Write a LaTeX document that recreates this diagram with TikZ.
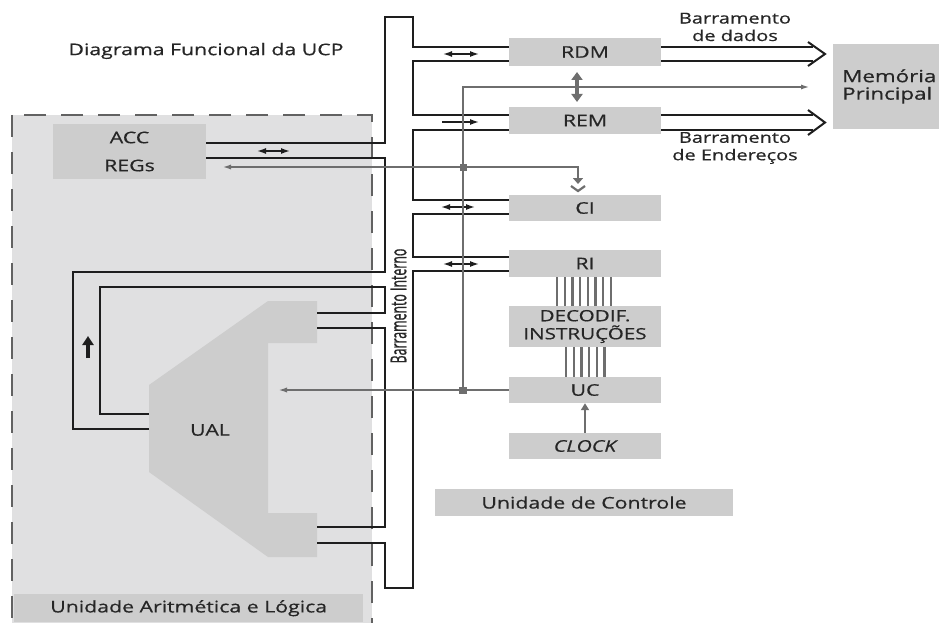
\documentclass[tikz,border=0pt]{standalone}
\usepackage{fontspec}
\setmainfont[FakeStretch=1.33,FakeBold=0.6]{Open Sans}
\newfontfamily\condfont[FakeStretch=0.56,FakeBold=0.8]{Open Sans}
\usetikzlibrary{arrows.meta,calc}
\definecolor{boxgray}{HTML}{CDCDCD}
\definecolor{regiongray}{HTML}{E0E0E1}
\definecolor{wiregray}{HTML}{6E6E6E}
\definecolor{dashgray}{HTML}{626262}
\definecolor{ink}{HTML}{262626}
\definecolor{busblack}{HTML}{1E1E1E}
\tikzset{
  box/.style={fill=boxgray, inner sep=0pt, text=ink, font=\fontsize{16}{19}\selectfont},
  txt/.style={inner sep=0pt, text=ink, font=\fontsize{16}{19}\selectfont},
  bus/.style={draw=busblack, line width=2pt},
  wire/.style={draw=wiregray, line width=2.5pt},
  dec/.style={draw=wiregray, line width=2.3pt},
  smallarr/.style={draw=busblack, line width=1.5pt},
  bihead/.style={{Latex[length=9pt,width=6pt]}-{Latex[length=9pt,width=6pt]}},
  onehead/.style={-{Latex[length=9pt,width=6pt]}},
}
\begin{document}
\begin{tikzpicture}[x=1pt,y=-1pt]
\useasboundingbox (0,0) rectangle (939,623);
\clip (0,0) rectangle (939,623);
\fill[white] (0,0) rectangle (939,623);
% ALU region
\draw[fill=regiongray, draw=dashgray, line width=2.8pt, dash pattern=on 22pt off 15pt] (12,115) rectangle (372,660);
\node[box, minimum width=349pt, minimum height=28pt, anchor=north west] (ualbox) at (14,594) {Unidade Aritmética e Lógica};
% title
\node[txt] (title) at (206,51) {Diagrama Funcional da UCP};
% registers
\node[box, minimum width=153pt, minimum height=55pt, align=center, font=\fontsize{16}{28}\selectfont] (acc) at (129.5,151.5) {ACC\\REGs};
% ALU shape
\fill[boxgray] (268,301) -- (317,301) -- (317,343) -- (268,343) -- (268,513) -- (317,513) -- (317,557) -- (268,557) -- (149,472) -- (149,385) -- cycle;
\node[txt] (ual) at (210,430) {UAL};
% control unit boxes
\node[box, minimum width=152pt, minimum height=28pt] (rdm) at (585,52) {RDM};
\node[box, minimum width=152pt, minimum height=27pt] (rem) at (585,120.5) {REM};
\node[box, minimum width=152pt, minimum height=26pt] (ci) at (585,208) {CI};
\node[box, minimum width=152pt, minimum height=27pt] (ri) at (585,263.5) {RI};
\node[box, minimum width=152pt, minimum height=41pt, align=center, font=\fontsize{15.5}{18}\selectfont] (decod) at (585,326.5) {DECODIF.\\INSTRUÇÕES};
\node[box, minimum width=152pt, minimum height=26pt] (uc) at (585,390) {UC};
\node[box, minimum width=152pt, minimum height=26pt, font=\fontsize{16}{19}\selectfont\itshape] (clk) at (585,446) {CLOCK};
\node[box, minimum width=298pt, minimum height=27pt] (udc) at (584,502.5) {Unidade de Controle};
% memory
\node[box, minimum width=130pt, minimum height=85pt, anchor=north west] (mem) at (833,44) {};
\node[txt, anchor=west, align=left, font=\fontsize{16.8}{17.5}\selectfont] (memtxt) at (842,86.5) {Memória\\Principal};
% bus labels
\node[txt, align=center, font=\fontsize{15}{17.5}\selectfont] (bd) at (735,27) {Barramento\\de dados};
\node[txt, align=center, font=\fontsize{15}{17.5}\selectfont] (be) at (735,148) {Barramento\\de Endereços};
\node[txt, rotate=90, font=\condfont\fontsize{22}{22}\selectfont] (bi) at (398.5,306) {Barramento Interno};
% internal bus outline
\draw[bus] (acc.east |- 0,143) -- (385,143) -- (385,17) -- (413,17) -- (413,47) -- (rdm.west |- 0,47);
\draw[bus] (rdm.west |- 0,61) -- (413,61) -- (413,115) -- (rem.west |- 0,115);
\draw[bus] (rem.west |- 0,130) -- (413,130) -- (413,200) -- (ci.west |- 0,200);
\draw[bus] (ci.west |- 0,214) -- (413,214) -- (413,257) -- (ri.west |- 0,257);
\draw[bus] (ri.west |- 0,271) -- (413,271) -- (413,588) -- (385,588) -- (385,543) -- (317,543);
\draw[bus] (317,527) -- (385,527) -- (385,328) -- (317,328);
\draw[bus] (317,313) -- (385,313) -- (385,287) -- (100,287) -- (100,414) -- (149,414);
\draw[bus] (149,429) -- (73,429) -- (73,272) -- (385,272) -- (385,158) -- (acc.east |- 0,158);
% external buses
\draw[bus] (rdm.east |- 0,47) -- (813,47);
\draw[bus] (rdm.east |- 0,61) -- (813,61);
\draw[bus, line join=miter] (808,42) -- (825,54) -- (808,66);
\draw[bus] (rem.east |- 0,115) -- (813,115);
\draw[bus] (rem.east |- 0,130) -- (813,130);
\draw[bus, line join=miter] (808,110) -- (825,122.5) -- (808,135);
% small black arrows
\draw[smallarr, bihead] (257,151) -- (290,151);
\draw[smallarr, bihead] (443,54) -- (479,54);
\draw[smallarr, onehead] (442,122) -- (479,122);
\draw[smallarr, bihead] (441,207) -- (475,207);
\draw[smallarr, bihead] (443,264) -- (479,264);
\draw[busblack, line width=3.5pt, -{Triangle[length=9pt,width=11pt]}] (88,358) -- (88,336);
% gray control wires
\coordinate (j1) at (463,167);
\coordinate (j2) at (463,390);
\draw[wire, -{Latex[length=9pt,width=5pt]}] (463,390) -- (463,87) -- (810,87);
\draw[wire, {Latex[length=9pt,width=5pt]}-{Triangle[length=6pt,width=10pt]}] (222,167) -- (578,167) -- (578,184);
\draw[wiregray, line width=2.2pt] (571,186) -- (578,191) -- (585,186);
\draw[wire, -{Latex[length=10pt,width=5pt]}] (uc.west) -- (277,390);
\fill[wiregray] ($(j1)+(-3.5,-3.5)$) rectangle ($(j1)+(3.5,3.5)$);
\fill[wiregray] ($(j2)+(-4,-3.5)$) rectangle ($(j2)+(4,3.5)$);
\draw[wiregray, line width=4pt, {Triangle[length=8pt,width=11pt]}-{Triangle[length=8pt,width=11pt]}] (577,72) -- (577,102);
\draw[wire, -{Triangle[length=7pt,width=8pt]}] (clk.north) -- (uc.south);
% decoder lines
\foreach \i in {0,...,7} { \draw[dec] (557+7.7*\i, 0 |- ri.south) -- (557+7.7*\i, 0 |- decod.north); }
\foreach \i in {0,...,5} { \draw[dec] (566+7.7*\i, 0 |- decod.south) -- (566+7.7*\i, 0 |- uc.north); }
\end{tikzpicture}
\end{document}
